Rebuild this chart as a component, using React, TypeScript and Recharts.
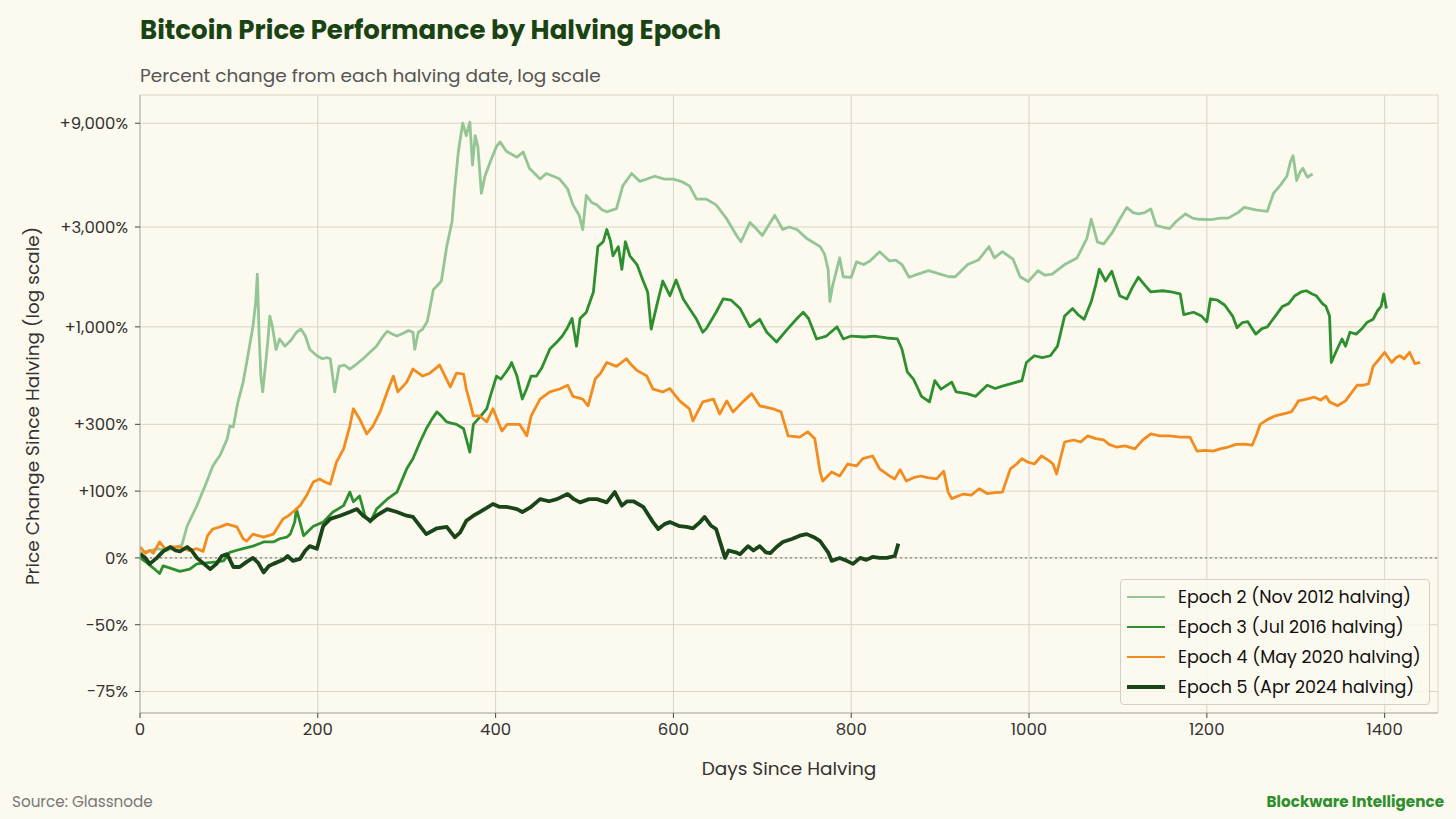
import React from "react";
import { CartesianGrid, Line, LineChart, ReferenceLine, XAxis, YAxis } from "recharts";

// [days since halving, % change since halving]
const epoch2: [number, number][] = [
  [0, 5], [8, 7], [20, 10], [30, 8], [41, 12], [47, 14], [53, 39], [64, 72], [75, 120], [82, 160],
  [90, 190], [98, 243], [101, 293], [105, 290], [110, 400], [116, 520], [120, 660], [127, 1000], [130, 1300], [132, 1800],
  [134, 900], [136, 560], [138, 460], [142, 700], [144, 870], [146, 1130], [149, 1000], [153, 770], [157, 870], [163, 800],
  [170, 860], [176, 940], [181, 975], [186, 900], [191, 770], [199, 715], [205, 690], [210, 700], [214, 690], [219, 460],
  [224, 630], [230, 640], [236, 610], [244, 650], [251, 690], [258, 740], [266, 800], [272, 880], [278, 950], [284, 920],
  [289, 900], [296, 930], [302, 960], [307, 940], [309, 770], [313, 940], [318, 975], [323, 1060], [326, 1230], [330, 1520],
  [334, 1580], [339, 1670], [345, 2430], [351, 3180], [354, 4500], [358, 6650], [363, 9000], [367, 7900], [371, 9100], [374, 5800],
  [377, 7900], [380, 7060], [384, 4300], [388, 5150], [394, 6000], [401, 7060], [405, 7400], [412, 6700], [418, 6500], [424, 6300],
  [431, 6650], [438, 5600], [450, 5000], [457, 5300], [465, 5150], [472, 5000], [481, 4500], [487, 3800], [494, 3400], [498, 2920],
  [502, 4200], [508, 3900], [514, 3800], [520, 3600], [525, 3530], [536, 3650], [543, 4650], [553, 5300], [562, 4880], [570, 5000],
  [579, 5150], [590, 5000], [600, 5000], [610, 4850], [618, 4650], [626, 4040], [637, 4040], [648, 3800], [660, 3270], [671, 2740],
  [676, 2560], [686, 3150], [693, 2950], [700, 2740], [714, 3400], [723, 2920], [730, 3000], [739, 2920], [750, 2650], [765, 2430],
  [770, 2240], [774, 1900], [776, 1330], [779, 1580], [787, 2150], [791, 1750], [800, 1740], [806, 2060], [814, 2000], [821, 2080],
  [832, 2300], [843, 2080], [850, 2100], [857, 2000], [865, 1740], [875, 1800], [887, 1870], [900, 1800], [910, 1750], [917, 1750],
  [931, 2000], [943, 2100], [955, 2430], [961, 2150], [970, 2300], [982, 2120], [990, 1750], [999, 1660], [1010, 1870], [1018, 1780],
  [1026, 1800], [1040, 2000], [1054, 2150], [1065, 2650], [1070, 3260], [1077, 2550], [1084, 2500], [1093, 2800], [1102, 3260], [1110, 3700],
  [1117, 3500], [1123, 3450], [1130, 3500], [1137, 3640], [1143, 3050], [1150, 3000], [1158, 2950], [1166, 3200], [1176, 3450], [1184, 3300],
  [1191, 3260], [1205, 3250], [1215, 3300], [1224, 3300], [1235, 3500], [1242, 3700], [1255, 3600], [1268, 3550], [1275, 4300], [1283, 4700],
  [1290, 5150], [1294, 6000], [1297, 6400], [1301, 4920], [1305, 5400], [1308, 5600], [1313, 5100], [1319, 5270],
];

const epoch3: [number, number][] = [
  [0, 0], [8, -5], [15, -10], [22, -15], [26, -8], [34, -10], [45, -13], [56, -11], [64, -6], [75, -5],
  [86, -4], [94, -3], [101, 6], [108, 8], [116, 10], [127, 13], [139, 18], [150, 18], [157, 22], [165, 24],
  [169, 28], [174, 45], [176, 66], [180, 45], [184, 26], [190, 33], [195, 39], [206, 45], [217, 61], [229, 72],
  [236, 98], [240, 79], [247, 90], [253, 55], [259, 45], [266, 66], [278, 84], [289, 98], [300, 152], [307, 180],
  [315, 233], [322, 282], [328, 320], [334, 355], [338, 340], [345, 310], [350, 305], [356, 300], [364, 282], [371, 200],
  [375, 300], [382, 330], [390, 370], [394, 435], [401, 560], [406, 540], [412, 590], [416, 630], [418, 660], [424, 560],
  [430, 420], [435, 480], [440, 560], [446, 560], [452, 620], [461, 774], [469, 840], [475, 900], [480, 975], [486, 1100],
  [491, 800], [495, 1100], [502, 1180], [510, 1480], [515, 2430], [521, 2560], [525, 2920], [529, 2600], [532, 2200], [538, 2430],
  [542, 1900], [546, 2560], [551, 2200], [559, 2000], [566, 1670], [571, 1480], [575, 975], [581, 1260], [588, 1670], [596, 1420],
  [603, 1690], [611, 1370], [618, 1230], [626, 1090], [633, 940], [637, 980], [648, 1180], [656, 1370], [665, 1350], [675, 1230],
  [686, 1000], [697, 1090], [705, 940], [716, 840], [727, 960], [739, 1100], [746, 1180], [752, 1100], [761, 870], [772, 900],
  [784, 1000], [791, 870], [800, 900], [815, 890], [826, 900], [840, 880], [852, 870], [857, 774], [863, 590], [870, 540],
  [875, 480], [879, 435], [888, 405], [894, 530], [901, 476], [913, 520], [918, 460], [930, 450], [940, 435], [953, 500],
  [962, 480], [970, 495], [980, 510], [992, 530], [997, 660], [1006, 715], [1015, 700], [1024, 715], [1032, 800], [1040, 1130],
  [1049, 1230], [1055, 1150], [1062, 1090], [1070, 1330], [1075, 1600], [1079, 1900], [1086, 1670], [1093, 1860], [1102, 1420], [1110, 1370],
  [1116, 1550], [1123, 1740], [1130, 1600], [1137, 1480], [1150, 1500], [1160, 1480], [1170, 1450], [1174, 1150], [1185, 1180], [1194, 1130],
  [1200, 1060], [1204, 1370], [1212, 1350], [1220, 1280], [1229, 1130], [1234, 990], [1240, 1050], [1246, 1060], [1255, 920], [1262, 980],
  [1268, 1000], [1277, 1130], [1285, 1260], [1292, 1300], [1299, 1420], [1306, 1480], [1312, 1500], [1318, 1450], [1323, 1420], [1330, 1300],
  [1334, 1260], [1338, 1130], [1340, 660], [1345, 745], [1352, 870], [1356, 800], [1361, 940], [1368, 920], [1374, 975], [1380, 1050],
  [1387, 1090], [1392, 1200], [1396, 1260], [1399, 1450], [1402, 1230],
];

const epoch4: [number, number][] = [
  [0, 12], [6, 5], [11, 8], [15, 5], [22, 18], [28, 10], [34, 12], [45, 12], [55, 8], [64, 10],
  [71, 7], [76, 26], [82, 35], [90, 38], [98, 42], [109, 38], [116, 22], [120, 19], [127, 28], [139, 24],
  [150, 28], [161, 50], [167, 55], [172, 61], [180, 72], [187, 90], [195, 120], [202, 127], [208, 120], [214, 115],
  [221, 170], [229, 210], [236, 293], [240, 370], [247, 323], [255, 262], [262, 293], [270, 355], [278, 460], [285, 560],
  [290, 460], [300, 520], [307, 610], [318, 560], [326, 580], [337, 640], [349, 490], [356, 580], [364, 574], [367, 477],
  [371, 405], [375, 337], [382, 337], [390, 310], [397, 370], [407, 273], [413, 300], [420, 300], [427, 300], [435, 255],
  [440, 337], [450, 420], [461, 460], [472, 477], [481, 500], [487, 435], [498, 420], [504, 385], [512, 540], [518, 580],
  [525, 660], [536, 630], [547, 690], [553, 640], [559, 600], [570, 560], [577, 476], [588, 460], [596, 480], [607, 410],
  [618, 370], [622, 315], [633, 405], [645, 420], [652, 345], [660, 410], [667, 355], [678, 405], [688, 450], [697, 385],
  [712, 370], [721, 355], [729, 255], [742, 250], [751, 270], [759, 244], [765, 144], [768, 122], [778, 144], [787, 134],
  [796, 165], [806, 160], [813, 180], [824, 188], [832, 152], [843, 134], [849, 127], [855, 150], [862, 122], [870, 130],
  [878, 134], [886, 130], [896, 127], [904, 146], [909, 98], [913, 85], [926, 94], [935, 92], [944, 105], [953, 95],
  [962, 97], [970, 98], [979, 152], [986, 165], [992, 180], [999, 170], [1006, 165], [1014, 188], [1022, 175], [1027, 165],
  [1031, 139], [1040, 233], [1050, 240], [1058, 233], [1066, 255], [1075, 245], [1084, 240], [1090, 225], [1098, 216], [1108, 220],
  [1119, 210], [1128, 240], [1137, 262], [1147, 255], [1158, 255], [1170, 250], [1181, 250], [1189, 203], [1198, 205], [1207, 203],
  [1215, 210], [1224, 216], [1233, 225], [1242, 226], [1251, 222], [1256, 260], [1260, 300], [1268, 320], [1277, 337], [1285, 345],
  [1295, 355], [1299, 380], [1303, 410], [1312, 420], [1321, 430], [1328, 415], [1334, 435], [1338, 405], [1347, 385], [1356, 410],
  [1362, 450], [1369, 500], [1376, 500], [1382, 510], [1387, 630], [1393, 680], [1400, 745], [1404, 700], [1408, 660], [1413, 700],
  [1417, 715], [1422, 690], [1428, 745], [1434, 650], [1440, 660],
];

const epoch5: [number, number][] = [
  [0, 4], [6, 0], [11, -6], [19, 0], [26, 7], [34, 12], [40, 8], [45, 7], [53, 12], [58, 8],
  [64, 0], [72, -6], [79, -11], [86, -6], [92, 2], [98, 4], [105, -9], [112, -9], [120, -4], [127, 0],
  [133, -5], [139, -14], [145, -8], [150, -6], [161, -2], [166, 2], [172, -3], [180, -1], [186, 8], [191, 13],
  [199, 10], [206, 39], [214, 50], [225, 55], [236, 61], [244, 66], [251, 55], [259, 47], [266, 55], [278, 66],
  [289, 61], [300, 55], [307, 53], [315, 39], [322, 28], [334, 36], [345, 38], [354, 24], [360, 30], [367, 47],
  [375, 55], [382, 61], [390, 68], [397, 75], [404, 70], [412, 70], [424, 66], [430, 61], [440, 70], [450, 84],
  [460, 80], [469, 84], [481, 94], [488, 84], [495, 78], [505, 84], [514, 84], [525, 78], [534, 98], [542, 72],
  [548, 80], [555, 80], [566, 70], [577, 45], [583, 35], [590, 42], [596, 45], [607, 39], [615, 38], [622, 36],
  [630, 45], [635, 53], [642, 40], [648, 35], [654, 13], [658, 0], [662, 8], [670, 6], [675, 4], [684, 13],
  [690, 8], [697, 13], [704, 6], [709, 5], [716, 12], [723, 18], [734, 22], [742, 26], [750, 28], [758, 24],
  [765, 19], [771, 10], [774, 6], [778, -3], [787, 0], [795, -3], [802, -6], [810, 0], [817, -2], [824, 1],
  [832, 0], [840, 0], [849, 2], [853, 16],
];

const epochNames = [
  "Epoch 2 (Nov 2012 halving)",
  "Epoch 3 (Jul 2016 halving)",
  "Epoch 4 (May 2020 halving)",
  "Epoch 5 (Apr 2024 halving)",
];

const xTicks = [0, 200, 400, 600, 800, 1000, 1200, 1400];
const yTickPcts = [-75, -50, 0, 100, 300, 1000, 3000, 9000];
const yTickLabels = ["-75%", "-50%", "0%", "+100%", "+300%", "+1,000%", "+3,000%", "+9,000%"];

const BG = "#fcf9ef";
const FONT = "Poppins, 'Open Sans', sans-serif";

// log axis needs price multiples, not percents
const toRatio = (p: number) => 1 + p / 100;
const series = [epoch2, epoch3, epoch4, epoch5].map((pts) =>
  pts.map(([day, pct]) => ({ day, v: toRatio(pct) }))
);
const yTicks = yTickPcts.map(toRatio);

const styles = [
  { color: "#94c595", width: 2.8 },
  { color: "#2e8f2e", width: 2.8 },
  { color: "#f28c1e", width: 2.8 },
  { color: "#1a4519", width: 3.8 },
];

export default function App() {
  return (
    <div style={{ position: "relative", width: 1456, height: 819, background: BG, fontFamily: FONT }}>
      <style>{"body{margin:0}"}</style>

      <div style={{ position: "absolute", left: 140, top: 12, fontSize: 26, fontWeight: 700, color: "#1a4314", lineHeight: "36px", whiteSpace: "nowrap" }}>
        Bitcoin Price Performance by Halving Epoch
      </div>
      <div style={{ position: "absolute", left: 140, top: 63, fontSize: 18.5, color: "#555", lineHeight: "26px", whiteSpace: "nowrap" }}>
        Percent change from each halving date, log scale
      </div>

      <LineChart width={1456} height={819} margin={{ top: 95, right: 18, bottom: 36, left: 12 }}>
        <CartesianGrid stroke="#d8d5c6" strokeWidth={1} />
        <XAxis
          type="number"
          dataKey="day"
          domain={[0, 1460]}
          ticks={xTicks}
          allowDataOverflow
          height={70}
          tickSize={5}
          tickMargin={5}
          tick={{ fill: "#333", fontSize: 16.5 }}
          tickLine={{ stroke: "#444" }}
          axisLine={{ stroke: "#b3b0a4" }}
        />
        <YAxis
          type="number"
          scale="log"
          domain={[0.2, 122]}
          ticks={yTicks}
          allowDataOverflow
          width={128}
          tickSize={5}
          tickMargin={7}
          tick={{ fill: "#333", fontSize: 16.5 }}
          tickLine={{ stroke: "#444" }}
          axisLine={{ stroke: "#b3b0a4" }}
          tickFormatter={(v: number) => yTickLabels[yTicks.findIndex((t) => Math.abs(t - v) < 1e-6)] ?? ""}
        />
        <ReferenceLine y={1} stroke="#808080" strokeDasharray="2 3" strokeWidth={1.2} />
        {series.map((data, i) => (
          <Line
            key={epochNames[i]}
            data={data}
            dataKey="v"
            type="linear"
            stroke={styles[i].color}
            strokeWidth={styles[i].width}
            strokeLinejoin="round"
            dot={false}
            activeDot={false}
            isAnimationActive={false}
          />
        ))}
      </LineChart>

      <div
        style={{
          position: "absolute",
          left: 32,
          top: 406,
          transform: "translate(-50%, -50%) rotate(-90deg)",
          whiteSpace: "nowrap",
          fontSize: 18.5,
          color: "#333",
        }}
      >
        Price Change Since Halving (log scale)
      </div>
      <div style={{ position: "absolute", left: 789, top: 768, transform: "translate(-50%, -50%)", fontSize: 18.5, color: "#333", whiteSpace: "nowrap" }}>
        Days Since Halving
      </div>

      {/* legend */}
      <div
        style={{
          position: "absolute",
          left: 1120,
          top: 579,
          width: 310,
          height: 126,
          border: "1px solid #d3d0c3",
          borderRadius: 4,
          background: "rgba(252,249,239,0.85)",
          boxSizing: "border-box",
          paddingTop: 2,
        }}
      >
        {epochNames.map((name, i) => (
          <div key={name} style={{ display: "flex", alignItems: "center", height: 30 }}>
            <div style={{ marginLeft: 6, width: 38, height: styles[i].width, background: styles[i].color }} />
            <span style={{ marginLeft: 13, fontSize: 17.5, color: "#111", whiteSpace: "nowrap" }}>{name}</span>
          </div>
        ))}
      </div>

      <div style={{ position: "absolute", left: 12, top: 801, transform: "translateY(-50%)", fontSize: 15.2, color: "#777", whiteSpace: "nowrap" }}>
        Source: Glassnode
      </div>
      <div style={{ position: "absolute", right: 12, top: 801, transform: "translateY(-50%)", fontSize: 15.2, fontWeight: 700, color: "#2e8f2e", whiteSpace: "nowrap" }}>
        Blockware Intelligence
      </div>
    </div>
  );
}
